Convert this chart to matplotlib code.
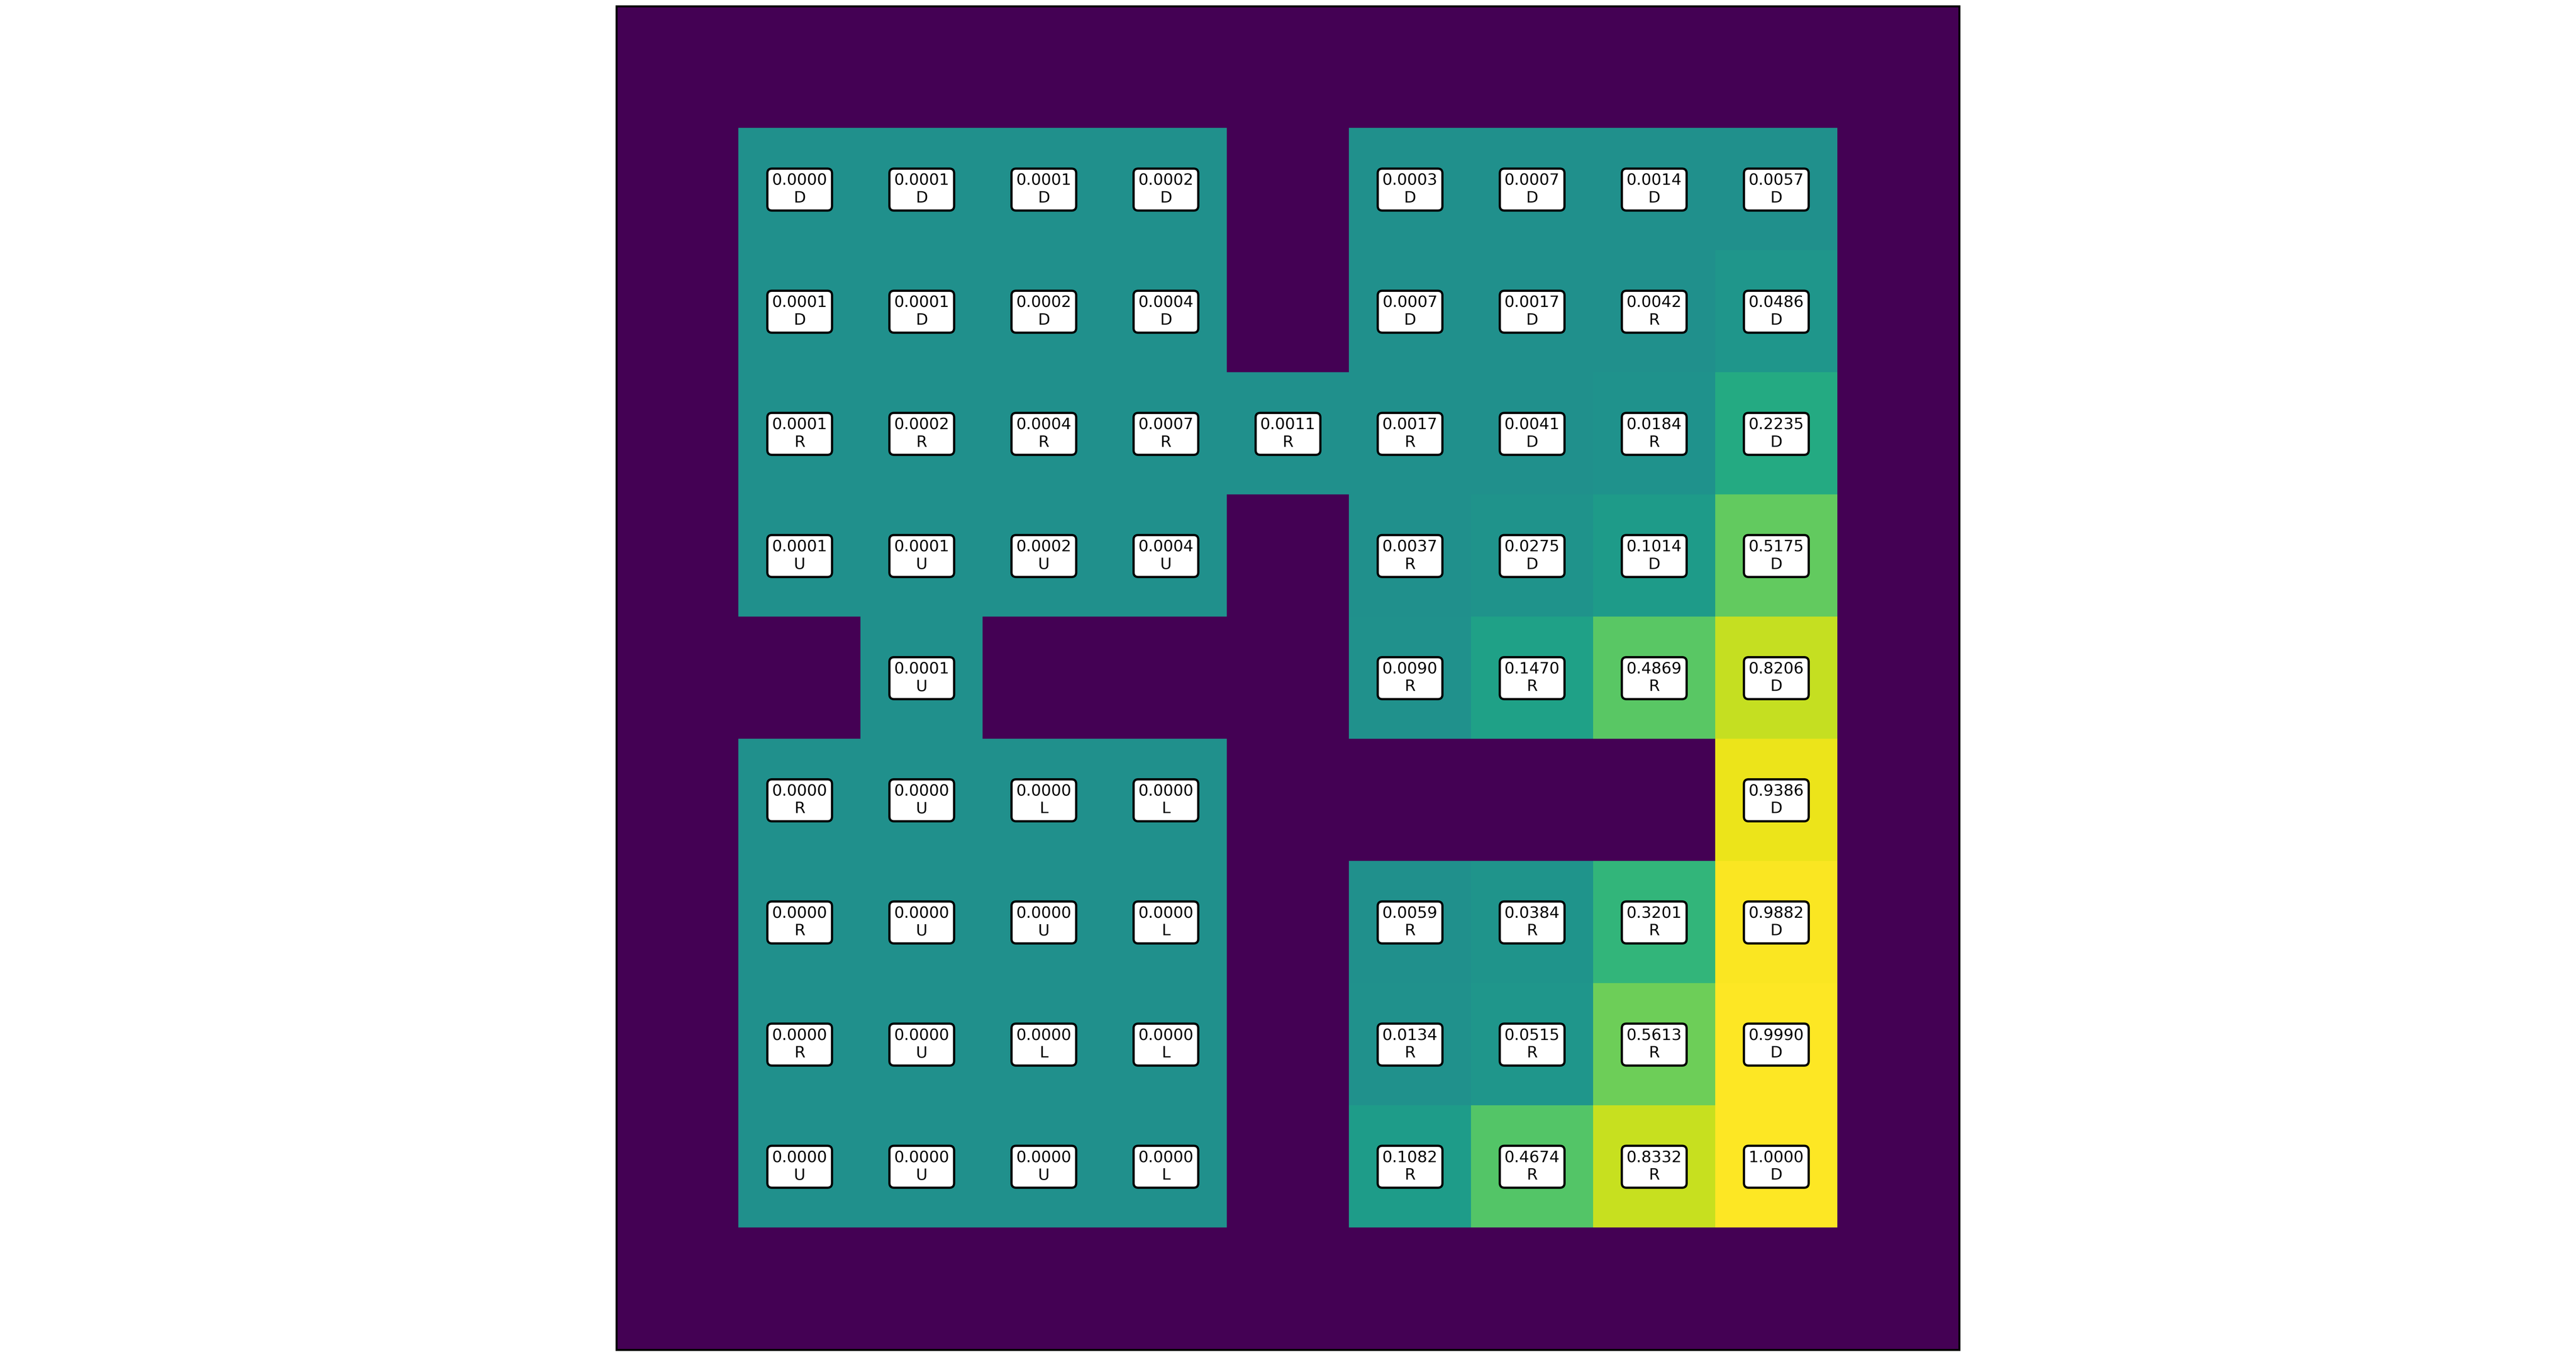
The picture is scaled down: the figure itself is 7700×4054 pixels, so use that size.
import numpy as np
import matplotlib
matplotlib.use("Agg")
import matplotlib.pyplot as plt

# state values of the 9x9 interior, None = wall
values = [
    [0.0000, 0.0001, 0.0001, 0.0002, None, 0.0003, 0.0007, 0.0014, 0.0057],
    [0.0001, 0.0001, 0.0002, 0.0004, None, 0.0007, 0.0017, 0.0042, 0.0486],
    [0.0001, 0.0002, 0.0004, 0.0007, 0.0011, 0.0017, 0.0041, 0.0184, 0.2235],
    [0.0001, 0.0001, 0.0002, 0.0004, None, 0.0037, 0.0275, 0.1014, 0.5175],
    [None, 0.0001, None, None, None, 0.0090, 0.1470, 0.4869, 0.8206],
    [0.0000, 0.0000, 0.0000, 0.0000, None, None, None, None, 0.9386],
    [0.0000, 0.0000, 0.0000, 0.0000, None, 0.0059, 0.0384, 0.3201, 0.9882],
    [0.0000, 0.0000, 0.0000, 0.0000, None, 0.0134, 0.0515, 0.5613, 0.9990],
    [0.0000, 0.0000, 0.0000, 0.0000, None, 0.1082, 0.4674, 0.8332, 1.0000],
]

# greedy policy
actions = [
    ["D", "D", "D", "D", "", "D", "D", "D", "D"],
    ["D", "D", "D", "D", "", "D", "D", "R", "D"],
    ["R", "R", "R", "R", "R", "R", "D", "R", "D"],
    ["U", "U", "U", "U", "", "R", "D", "D", "D"],
    ["", "U", "", "", "", "R", "R", "R", "D"],
    ["R", "U", "L", "L", "", "", "", "", "D"],
    ["R", "U", "U", "L", "", "R", "R", "R", "D"],
    ["R", "U", "L", "L", "", "R", "R", "R", "D"],
    ["U", "U", "U", "L", "", "R", "R", "R", "D"],
]

n = len(values) + 2
grid = np.full((n, n), -1.0)
for i, row in enumerate(values):
    for j, v in enumerate(row):
        if v is not None:
            grid[i + 1, j + 1] = v

fig = plt.figure(figsize=(19.25, 10.135), dpi=400)
ax = fig.add_axes([1843 / 7700, 21 / 4054, 4014 / 7700, 4014 / 4054])
ax.imshow(grid, cmap="viridis", vmin=-1, vmax=1, interpolation="nearest")

for i, row in enumerate(values):
    for j, v in enumerate(row):
        if v is None:
            continue
        ax.text(j + 1, i + 1, f"{v:.4f}\n{actions[i][j]}",
                ha="center", va="center", multialignment="center",
                fontsize=8.5,
                bbox=dict(boxstyle="round,pad=0.3", facecolor="white",
                          edgecolor="black", linewidth=1.2))

ax.set_xticks([])
ax.set_yticks([])
for s in ax.spines.values():
    s.set_linewidth(1.08)

fig.savefig("out.png", dpi=400)
